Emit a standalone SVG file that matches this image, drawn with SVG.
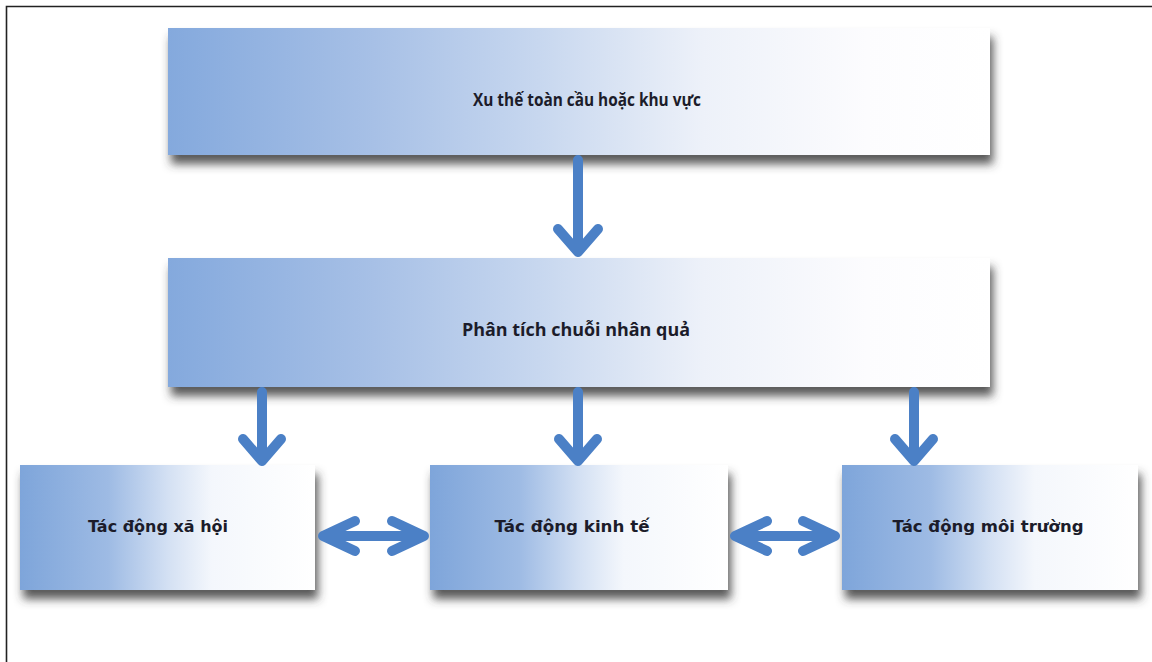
<svg xmlns="http://www.w3.org/2000/svg" width="1152" height="662" viewBox="0 0 1152 662">
  <style>
    .frame { fill: none; stroke: #222; stroke-width: 1.6; }
    .wide { fill: url(#gWide); }
    .small { fill: url(#gSmall); }
    .t1 { font-family: "Open Sans", "Liberation Sans", sans-serif; font-weight: bold; font-size: 18px; fill: #1c1c2a; text-anchor: middle; }
    .t2 { font-family: "DejaVu Sans", Verdana, sans-serif; font-weight: bold; font-size: 15px; fill: #1c1c2a; text-anchor: middle; }
    .arrow { fill: none; stroke: #4b80c6; stroke-width: 10; stroke-linecap: round; stroke-linejoin: round; }
  </style>
  <defs>
    <linearGradient id="gWide" x1="0" y1="0" x2="1" y2="0">
      <stop offset="0" stop-color="#84a9dd"/>
      <stop offset="0.25" stop-color="#a7c0e6"/>
      <stop offset="0.45" stop-color="#c7d7ef"/>
      <stop offset="0.65" stop-color="#edf1f9"/>
      <stop offset="0.85" stop-color="#fcfcfe"/>
      <stop offset="1" stop-color="#ffffff"/>
    </linearGradient>
    <linearGradient id="gSmall" x1="0" y1="0" x2="1" y2="0">
      <stop offset="0" stop-color="#7ea5da"/>
      <stop offset="0.3" stop-color="#9ebbe4"/>
      <stop offset="0.5" stop-color="#d3e0f3"/>
      <stop offset="0.65" stop-color="#f4f7fc"/>
      <stop offset="1" stop-color="#ffffff"/>
    </linearGradient>
    <filter id="shadow" x="-5%" y="-10%" width="112%" height="140%">
      <feGaussianBlur in="SourceAlpha" stdDeviation="5"/>
      <feOffset dx="3" dy="9" result="b"/>
      <feFlood flood-color="#3c3c3c" flood-opacity="0.85"/>
      <feComposite in2="b" operator="in"/>
      <feMerge>
        <feMergeNode/>
        <feMergeNode in="SourceGraphic"/>
      </feMerge>
    </filter>
  </defs>

  <rect width="1152" height="662" fill="#ffffff"/>
  <!-- page frame: only the top and left edges fall inside the canvas -->
  <path class="frame" d="M6.5,662 V6.5 H1152"/>

  <g id="trend">
    <rect class="wide" x="168" y="28" width="822" height="127" filter="url(#shadow)"/>
    <text class="t1" x="587" y="106" textLength="228" lengthAdjust="spacingAndGlyphs">Xu thế toàn cầu hoặc khu vực</text>
  </g>

  <g id="causal">
    <rect class="wide" x="168" y="258" width="822" height="129" filter="url(#shadow)"/>
    <text class="t1" x="576" y="336" textLength="228" lengthAdjust="spacingAndGlyphs">Phân tích chuỗi nhân quả</text>
  </g>

  <g id="social">
    <rect class="small" x="20" y="465" width="295" height="125" filter="url(#shadow)"/>
    <text class="t2" x="158" y="532" textLength="140" lengthAdjust="spacingAndGlyphs">Tác động xã hội</text>
  </g>

  <g id="economic">
    <rect class="small" x="430" y="465" width="298" height="125" filter="url(#shadow)"/>
    <text class="t2" x="572" y="532" textLength="155" lengthAdjust="spacingAndGlyphs">Tác động kinh tế</text>
  </g>

  <g id="environment">
    <rect class="small" x="842" y="465" width="296" height="125" filter="url(#shadow)"/>
    <text class="t2" x="988" y="532" textLength="191" lengthAdjust="spacingAndGlyphs">Tác động môi trường</text>
  </g>

  <g id="connectors">
    <path class="arrow" d="M578,160 V251 M558,229 L578,252 L598,229"/>
    <path class="arrow" d="M262,392 V460 M243,439 L262,461 L281,439"/>
    <path class="arrow" d="M578,392 V460 M559,439 L578,461 L597,439"/>
    <path class="arrow" d="M914,392 V460 M895,439 L914,461 L933,439"/>
    <path class="arrow" d="M323,536 H424 M355,521 L323,536 L355,551 M392,521 L424,536 L392,551"/>
    <path class="arrow" d="M735,536 H835 M767,521 L735,536 L767,551 M803,521 L835,536 L803,551"/>
  </g>
</svg>
